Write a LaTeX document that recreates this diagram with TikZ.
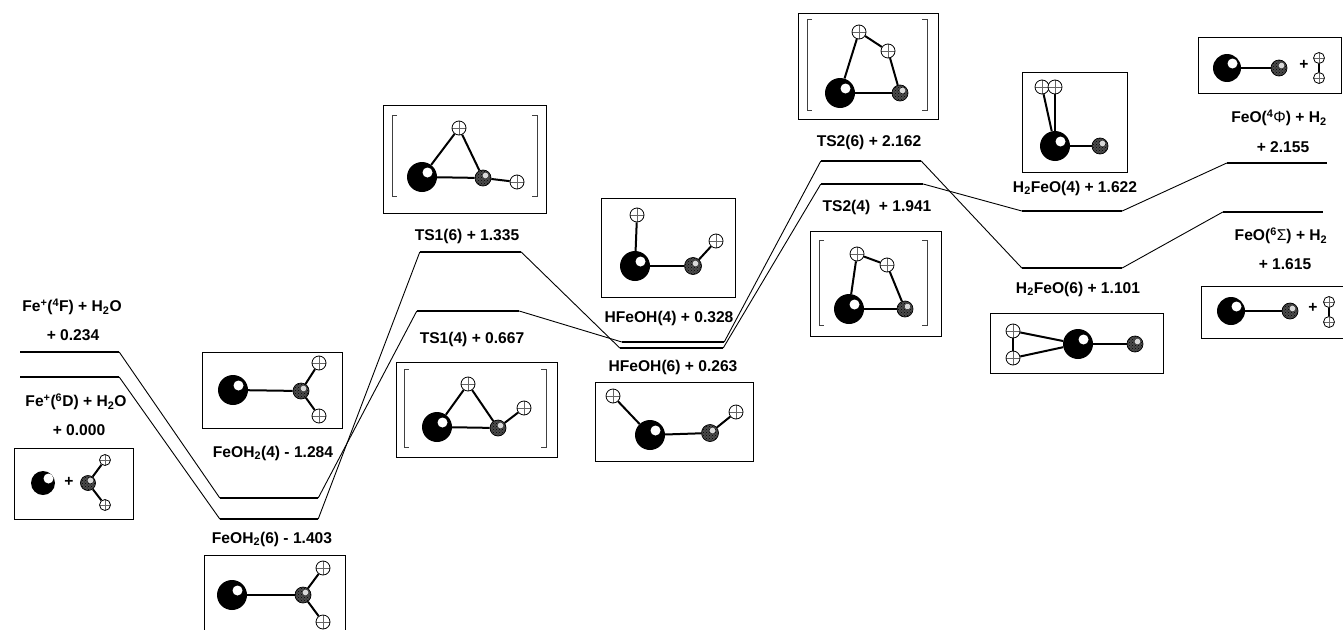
\documentclass[tikz,border=0pt]{standalone}
\usepackage{fontspec}
\setmainfont{Liberation Sans}
\usetikzlibrary{positioning, backgrounds, calc, patterns}

\begin{document}
\begin{tikzpicture}[
    x=1pt, y=-1pt,
    every node/.style={font=\fontsize{15.6}{17}\selectfont\bfseries},
    level/.style={
        fill=black, inner sep=0pt, minimum height=2.8pt
    },
    molbox/.style={
        draw, line width=0.9pt, inner sep=0pt
    },
    featom/.style={
        circle, fill=black, inner sep=0pt, minimum size=30pt,
        path picture={\fill[white] ($(path picture bounding box.center)+(5.5pt,4.5pt)$) circle (5pt);}
    },
    oatom/.style={
        circle, draw, line width=0.7pt, inner sep=0pt, minimum size=16pt,
        preaction={fill=black!70}, pattern=crosshatch dots, pattern color=black,
        path picture={\fill[white!85!black] ($(path picture bounding box.center)+(2.5pt,2.5pt)$) circle (2.8pt);}
    },
    hatom/.style={
        circle, draw, fill=white, line width=0.8pt, inner sep=0pt, minimum size=14pt,
        path picture={
            \draw[line width=0.35pt, black!60] (path picture bounding box.west) -- (path picture bounding box.east);
            \draw[line width=0.35pt, black!60] (path picture bounding box.north) -- (path picture bounding box.south);
        }
    },
    bond/.style={line width=2pt},
    link/.style={line width=0.9pt},
    bracket/.style={line width=1pt, black!75},
]
\useasboundingbox (0,0) rectangle (1343,629);

% ===== Energy levels =====
\node[level, minimum width=99pt] (lvfeq) at (69.5,352) {};
\node[level, minimum width=99pt] (lvfes) at (69.5,377) {};
\node[level, minimum width=98pt] (lvcxq) at (269,498) {};
\node[level, minimum width=98pt] (lvcxs) at (269,519) {};
\node[level, minimum width=101pt] (lvtas) at (470.5,252) {};
\node[level, minimum width=102pt] (lvtaq) at (468,311) {};
\node[level, minimum width=102pt] (lvhfq) at (673,342) {};
\node[level, minimum width=103pt] (lvhfs) at (671.5,348) {};
\node[level, minimum width=100pt] (lvtbs) at (871,161) {};
\node[level, minimum width=102pt] (lvtbq) at (872,184) {};
\node[level, minimum width=100pt] (lvdhq) at (1072,211) {};
\node[level, minimum width=100pt] (lvdhs) at (1072,268) {};
\node[level, minimum width=100pt] (lvprq) at (1277,163) {};
\node[level, minimum width=100pt] (lvprs) at (1273,212) {};

% ===== Links between levels =====
\draw[link] (lvfeq.east) -- (lvcxq.west);
\draw[link] (lvfes.east) -- (lvcxs.west);
\draw[link] (lvcxq.east) -- (lvtaq.west);
\draw[link] (lvcxs.east) -- (lvtas.west);
\draw[link] (lvtas.east) -- (lvhfs.west);
\draw[link] (lvtaq.east) -- (lvhfq.west);
\draw[link] (lvhfq.east) -- (lvtbs.west);
\draw[link] (lvhfs.east) -- (lvtbq.west);
\draw[link] (lvtbs.east) -- (lvdhs.west);
\draw[link] (lvtbq.east) -- (lvdhq.west);
\draw[link] (lvdhq.east) -- (lvprq.west);
\draw[link] (lvdhs.east) -- (lvprs.west);

% ===== Labels =====
\node (txfeq) at (72,307) {Fe\textsuperscript{+}(\textsuperscript{4}F) + H\textsubscript{2}O};
\node (enfeq) at ($(txfeq)+(1,28)$) {+ 0.234};
\node (txfes) at (76,402) {Fe\textsuperscript{+}(\textsuperscript{6}D) + H\textsubscript{2}O};
\node (enfes) at ($(txfes)+(3,28)$) {+ 0.000};
\node (txcxq) at (273,453) {FeOH\textsubscript{2}(4) - 1.284};
\node (txcxs) at (272,539) {FeOH\textsubscript{2}(6) - 1.403};
\node (txtas) at (467,236) {TS1(6) + 1.335};
\node (txtaq) at (472,339) {TS1(4) + 0.667};
\node (txhfq) at (669,318) {HFeOH(4) + 0.328};
\node (txhfs) at (673,367) {HFeOH(6) + 0.263};
\node (txtbs) at (869,142) {TS2(6) + 2.162};
\node (txtbq) at (877,207) {TS2(4) \ + 1.941};
\node (txdhq) at (1075,188) {H\textsubscript{2}FeO(4) + 1.622};
\node (txdhs) at (1078,289) {H\textsubscript{2}FeO(6) + 1.101};
\node (txprq) at (1279,118) {FeO(\textsuperscript{4}{\mdseries Φ}) + H\textsubscript{2}};
\node (enprq) at ($(txprq)+(4,29)$) {+ 2.155};
\node (txprs) at (1281,236) {FeO(\textsuperscript{6}{\mdseries Σ}) + H\textsubscript{2}};
\node (enprs) at ($(txprs)+(4,28)$) {+ 1.615};

% ===== Fe+ + H2O =====
\node[molbox, minimum width=119pt, minimum height=71pt] (boxfes) at (73.5,483.5) {};
\node[featom, minimum size=24pt] (feA) at (43,483) {};
\node (plA) at (69,482) {+};
\node[oatom, minimum size=15pt] (oA) at (88,483) {};
\node[hatom, minimum size=11pt] (haA) at (105,460) {};
\node[hatom, minimum size=11pt] (hbA) at (105,505) {};

% ===== FeOH2 =====
\node[molbox, minimum width=140pt, minimum height=76pt] (boxcxq) at (272,390) {};
\node[featom] (feB) at (233,390) {};
\node[oatom] (oB) at (301,391) {};
\node[hatom] (haB) at (319,363) {};
\node[hatom] (hbB) at (319,416) {};

\node[molbox, minimum width=141pt, minimum height=76pt] (boxcxs) at (274.5,593) {};
\node[featom] (feC) at (232,595) {};
\node[oatom] (oC) at (303,595) {};
\node[hatom] (haC) at (323,568) {};
\node[hatom] (hbC) at (323,622) {};

% ===== TS1 =====
\node[molbox, minimum width=163pt, minimum height=108pt] (boxtas) at (464.5,159) {};
\node[featom] (feD) at (422,177) {};
\node[oatom] (oD) at (483,178) {};
\node[hatom] (haD) at (459,128) {};
\node[hatom] (hbD) at (517,182) {};
\draw[bracket] (397,115) -| (392,196) -- (397,196);
\draw[bracket] (532,115) -| (537,196) -- (532,196);

\node[molbox, minimum width=161pt, minimum height=95pt] (boxtaq) at (476.5,409.5) {};
\node[featom] (feE) at (437,427) {};
\node[oatom] (oE) at (498,428) {};
\node[hatom] (haE) at (468,384) {};
\node[hatom] (hbE) at (524,408) {};
\draw[bracket] (409,369) -| (404,447) -- (409,447);
\draw[bracket] (541,369) -| (546,447) -- (541,447);

% ===== HFeOH =====
\node[molbox, minimum width=134pt, minimum height=99pt] (boxhfq) at (668,247.5) {};
\node[featom] (feF) at (635,266) {};
\node[oatom, minimum size=17pt] (oF) at (693,266) {};
\node[hatom] (haF) at (637,215) {};
\node[hatom] (hbF) at (716,241) {};

\node[molbox, minimum width=158pt, minimum height=79pt] (boxhfs) at (674,421.5) {};
\node[featom] (feG) at (650,435) {};
\node[oatom, minimum size=17pt] (oG) at (710,433) {};
\node[hatom] (haG) at (613,396) {};
\node[hatom] (hbG) at (736,412) {};

% ===== TS2 =====
\node[molbox, minimum width=140pt, minimum height=106pt] (boxtbs) at (868,66) {};
\node[featom] (feH) at (840,93) {};
\node[oatom] (oH) at (900,93) {};
\node[hatom] (haH) at (859,32) {};
\node[hatom] (hbH) at (888,51) {};
\draw[bracket] (812,19) -| (807,110) -- (812,110);
\draw[bracket] (922,19) -| (927,110) -- (922,110);

\node[molbox, minimum width=131pt, minimum height=105pt] (boxtbq) at (875.5,283.5) {};
\node[featom] (feI) at (849,309) {};
\node[oatom] (oI) at (905,309) {};
\node[hatom] (haI) at (857,254) {};
\node[hatom] (hbI) at (887,265) {};
\draw[bracket] (824,240) -| (819,325) -- (824,325);
\draw[bracket] (922,240) -| (927,325) -- (922,325);

% ===== H2FeO =====
\node[molbox, minimum width=105pt, minimum height=100pt] (boxdhq) at (1074.5,122) {};
\node[featom] (feJ) at (1055,146) {};
\node[oatom] (oJ) at (1100,146) {};
\node[hatom] (haJ) at (1042,87) {};
\node[hatom] (hbJ) at (1055,87) {};

\node[molbox, minimum width=173pt, minimum height=60pt] (boxdhs) at (1076.5,343) {};
\node[featom] (feK) at (1078,344) {};
\node[oatom] (oK) at (1135,344) {};
\node[hatom] (haK) at (1013,331) {};
\node[hatom] (hbK) at (1013,358) {};

% ===== FeO + H2 =====
\node[molbox, minimum width=143pt, minimum height=56pt] (boxprq) at (1269.5,65) {};
\node[featom, minimum size=28pt] (feL) at (1227,68) {};
\node[oatom] (oL) at (1279,68) {};
\node (plL) at (1304,65) {+};
\node[hatom, minimum size=11pt] (haL) at (1319,58) {};
\node[hatom, minimum size=11pt] (hbL) at (1319,78) {};

\node[molbox, minimum width=146pt, minimum height=52pt] (boxprs) at (1274,312) {};
\node[featom, minimum size=28pt] (feM) at (1231,311) {};
\node[oatom] (oM) at (1290,311) {};
\node (plM) at (1313,308) {+};
\node[hatom, minimum size=11pt] (haM) at (1329,302) {};
\node[hatom, minimum size=11pt] (hbM) at (1329,322) {};

% ===== Bonds =====
\begin{scope}[on background layer]
    \draw[bond] (oA) -- (haA);
    \draw[bond] (oA) -- (hbA);
    \draw[bond] (feB) -- (oB);
    \draw[bond] (oB) -- (haB);
    \draw[bond] (oB) -- (hbB);
    \draw[bond] (feC) -- (oC);
    \draw[bond] (oC) -- (haC);
    \draw[bond] (oC) -- (hbC);
    \draw[bond] (feD) -- (oD);
    \draw[bond] (feD) -- (haD);
    \draw[bond] (haD) -- (oD);
    \draw[bond] (oD) -- (hbD);
    \draw[bond] (feE) -- (oE);
    \draw[bond] (feE) -- (haE);
    \draw[bond] (haE) -- (oE);
    \draw[bond] (oE) -- (hbE);
    \draw[bond] (feF) -- (oF);
    \draw[bond] (feF) -- (haF);
    \draw[bond] (oF) -- (hbF);
    \draw[bond] (feG) -- (oG);
    \draw[bond] (feG) -- (haG);
    \draw[bond] (oG) -- (hbG);
    \draw[bond] (feH) -- (oH);
    \draw[bond] (feH) -- (haH);
    \draw[bond] (haH) -- (hbH);
    \draw[bond] (hbH) -- (oH);
    \draw[bond] (feI) -- (oI);
    \draw[bond] (feI) -- (haI);
    \draw[bond] (haI) -- (hbI);
    \draw[bond] (hbI) -- (oI);
    \draw[bond] (feJ) -- (oJ);
    \draw[bond] (feJ) -- (haJ);
    \draw[bond] (feJ) -- (hbJ);
    \draw[bond] (feK) -- (oK);
    \draw[bond] (feK) -- (haK);
    \draw[bond] (feK) -- (hbK);
    \draw[bond] (haK) -- (hbK);
    \draw[bond] (feL) -- (oL);
    \draw[bond] (haL) -- (hbL);
    \draw[bond] (feM) -- (oM);
    \draw[bond] (haM) -- (hbM);
\end{scope}

\end{tikzpicture}
\end{document}
